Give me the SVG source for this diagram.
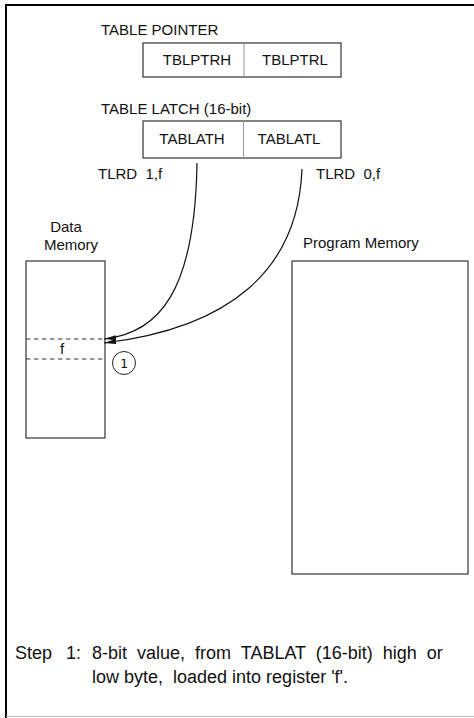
<svg xmlns="http://www.w3.org/2000/svg" width="474" height="718" viewBox="0 0 474 718">
<style>
  text { font-family: "Liberation Sans", Arial, sans-serif; fill: #111; }
  .lbl { font-size: 15px; }
  .cell { font-size: 15px; text-anchor: middle; }
  .step { font-size: 18px; }
  .box { fill: #fff; stroke: #333; stroke-width: 1.2; }
  .div { stroke: #999; stroke-width: 1; }
  .dash { stroke: #333; stroke-width: 1; stroke-dasharray: 4.5 3.5; }
  .conn { fill: none; stroke: #111; stroke-width: 1.2; marker-end: url(#arr); }
</style>
<defs>
  <marker id="arr" markerUnits="userSpaceOnUse" markerWidth="14" markerHeight="6" refX="12" refY="2.5" orient="auto">
    <path d="M0,0 L12,2.5 L0,5 z" fill="#111"/>
  </marker>
</defs>
<rect x="0" y="0" width="474" height="718" fill="#fff"/>
<g id="frame">
  <rect x="5" y="4" width="469" height="2" fill="#000"/>
  <rect x="5" y="4" width="2" height="714" fill="#000"/>
  <line x1="6" y1="716.5" x2="474" y2="716.5" stroke="#bbb" stroke-width="1"/>
</g>
<g id="table-pointer">
  <text class="lbl" x="101" y="35">TABLE POINTER</text>
  <rect class="box" x="143" y="43" width="198" height="34"/>
  <line class="div" x1="244" y1="43" x2="244" y2="77"/>
  <text class="cell" x="197" y="65">TBLPTRH</text>
  <text class="cell" x="295" y="65">TBLPTRL</text>
</g>
<g id="table-latch">
  <text class="lbl" x="101" y="114">TABLE LATCH (16-bit)</text>
  <rect class="box" x="143" y="121" width="198" height="37"/>
  <line class="div" x1="243.5" y1="121" x2="243.5" y2="158"/>
  <text class="cell" x="192" y="144">TABLATH</text>
  <text class="cell" x="289" y="144">TABLATL</text>
</g>
<g id="tlrd-labels">
  <text class="lbl" x="98" y="179" xml:space="preserve">TLRD  1,f</text>
  <text class="lbl" x="316" y="179" xml:space="preserve">TLRD  0,f</text>
</g>
<g id="data-memory">
  <text class="lbl" x="66" y="232" text-anchor="middle">Data</text>
  <text class="lbl" x="71" y="250" text-anchor="middle">Memory</text>
  <rect class="box" x="26" y="261" width="79" height="177"/>
  <line class="dash" x1="26" y1="339" x2="105" y2="339"/>
  <line class="dash" x1="26" y1="359" x2="105" y2="359"/>
  <text class="lbl" x="62" y="354" text-anchor="middle">f</text>
</g>
<g id="step-marker">
  <circle cx="124" cy="363" r="11.5" fill="#fff" stroke="#222" stroke-width="1"/>
  <text x="124" y="368" text-anchor="middle" style="font-family:'DejaVu Sans Mono','Liberation Mono',monospace;font-size:13px">1</text>
</g>
<g id="program-memory">
  <text class="lbl" x="303" y="248">Program Memory</text>
  <rect class="box" x="292" y="261" width="176" height="313"/>
</g>
<g id="connectors">
  <path class="conn" d="M197,163 C195,290 160,333 104,339"/>
  <path class="conn" d="M302,169 C298,270 230,328 104,343"/>
</g>
<g id="caption">
  <text class="step" x="15" y="659" word-spacing="9">Step 1:</text>
  <text class="step" x="92" y="659" word-spacing="5">8-bit value, from TABLAT (16-bit) high or</text>
  <text class="step" x="92" y="683" xml:space="preserve">low byte,  loaded into register 'f'.</text>
</g>
</svg>
